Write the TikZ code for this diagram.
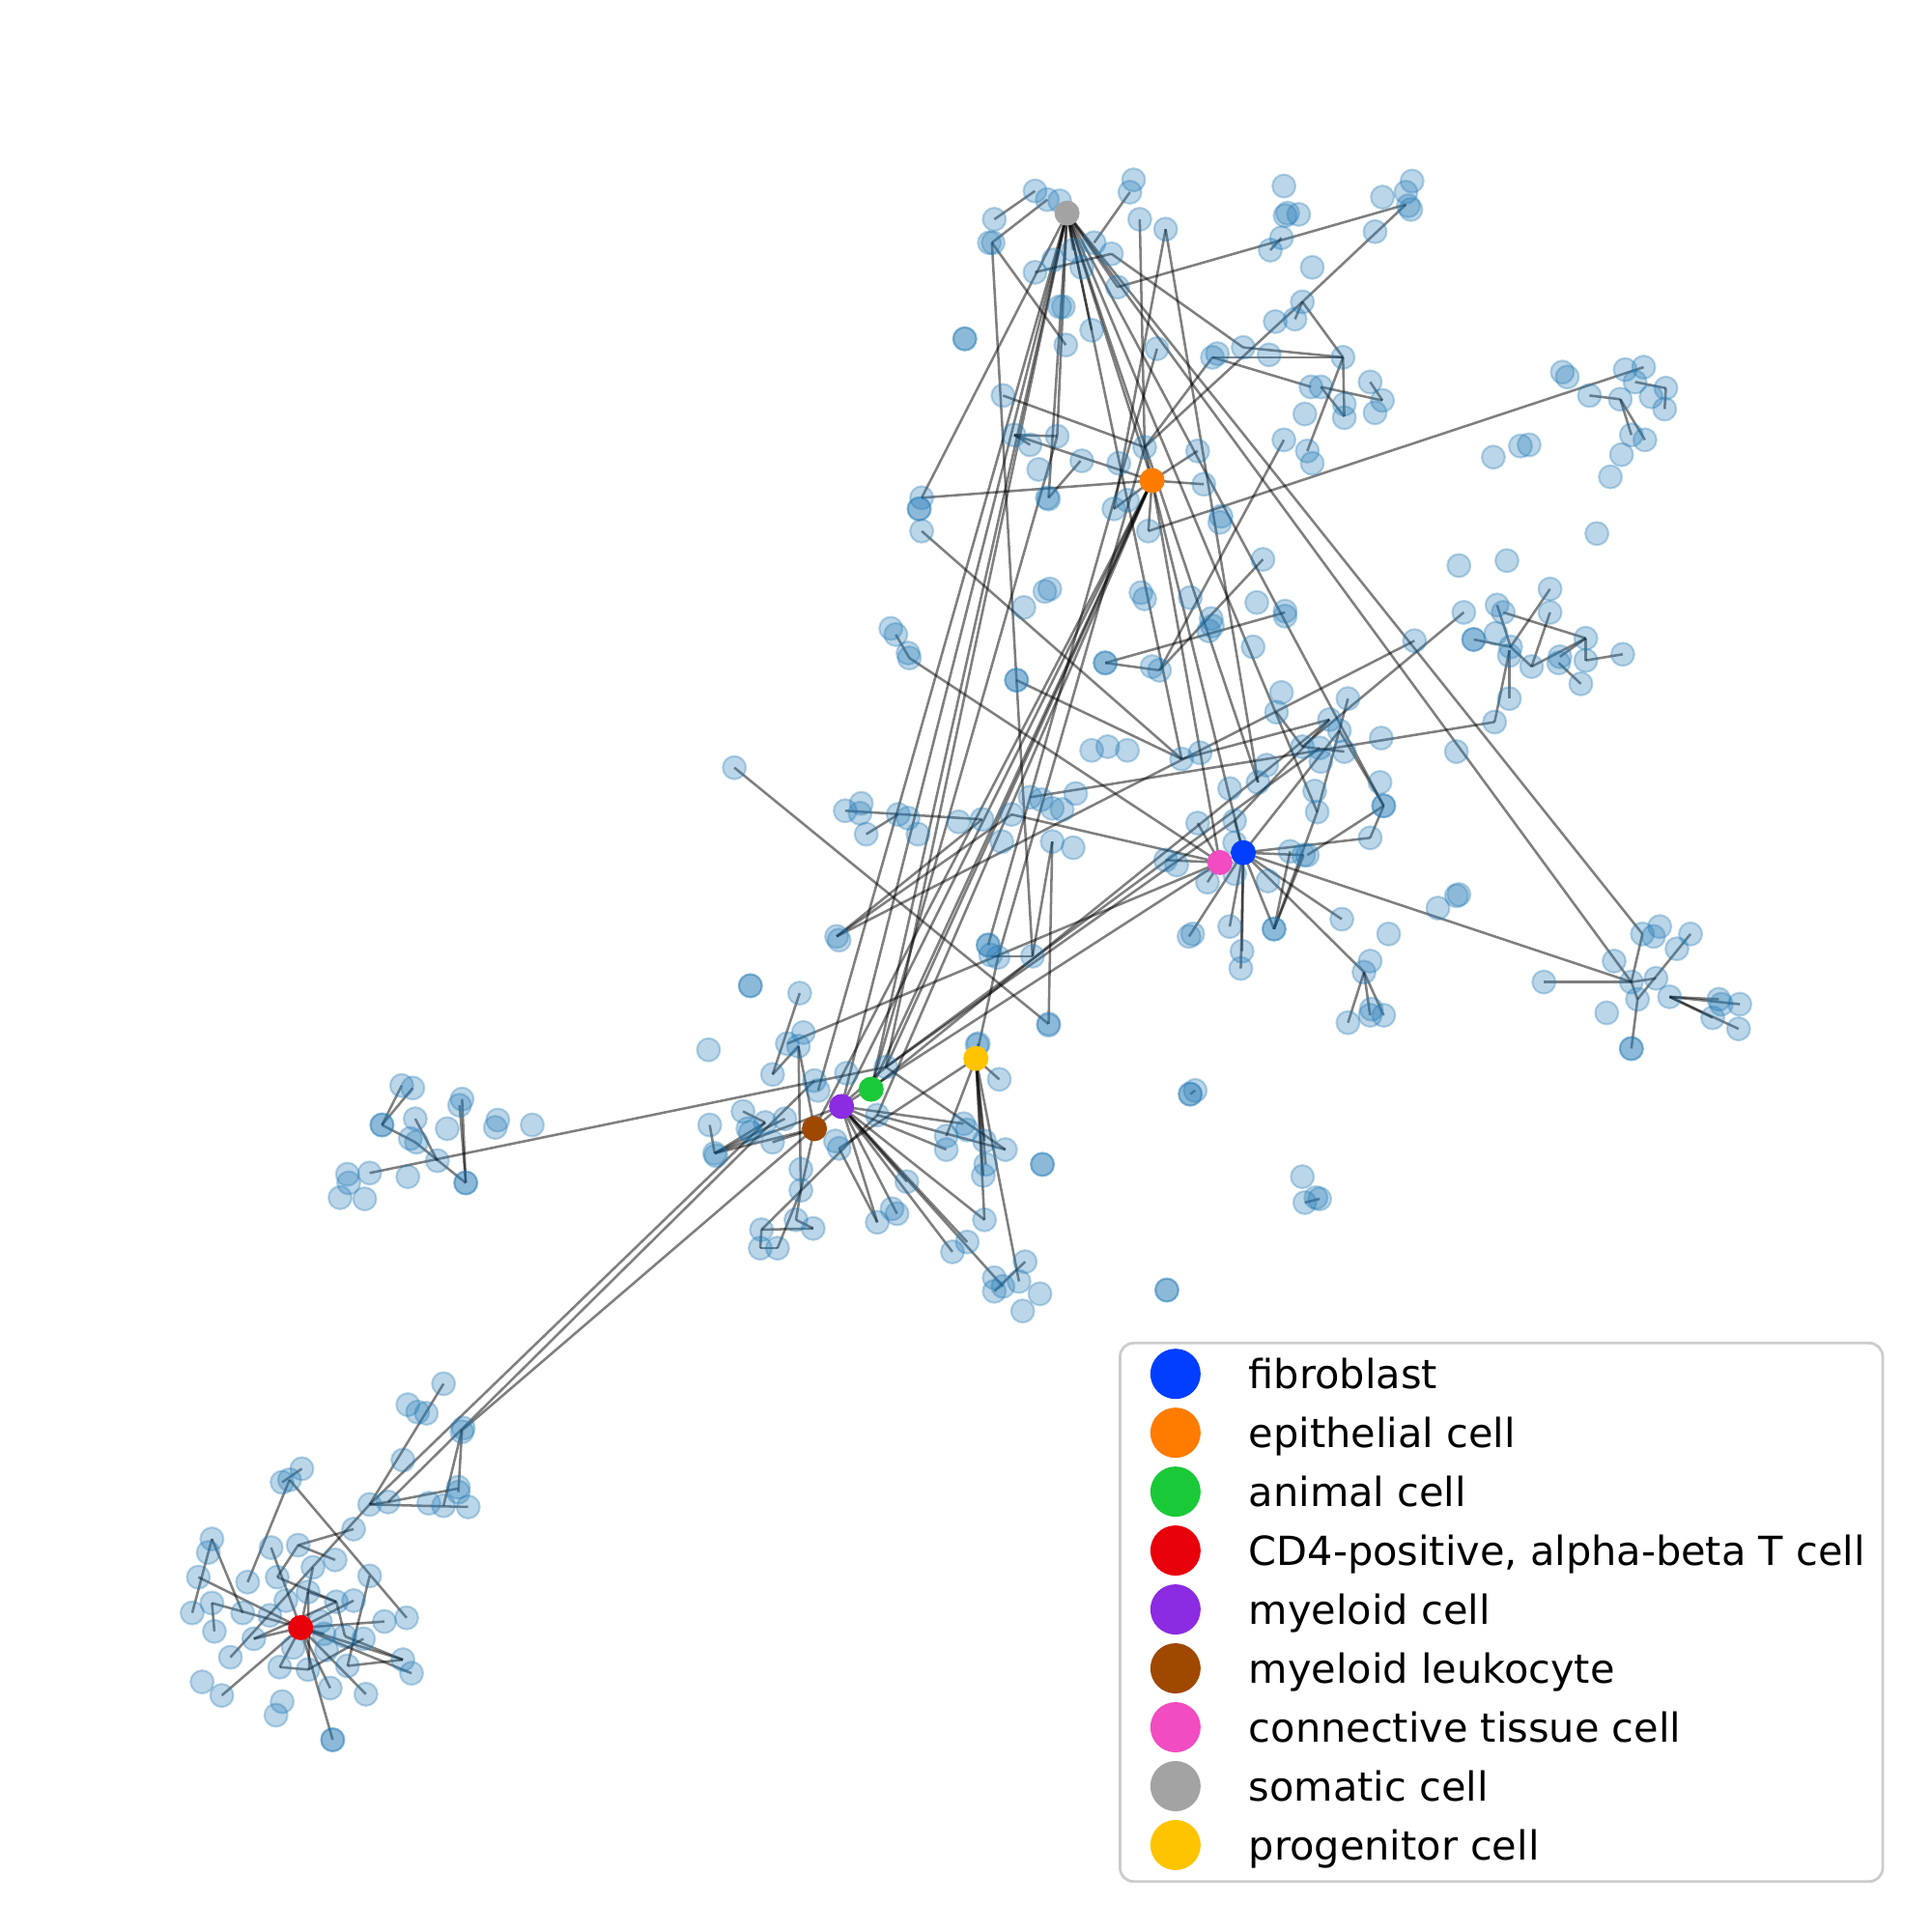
\documentclass[tikz,border=0pt]{standalone}
\usepackage{fontspec}
\setmainfont{DejaVu Sans}
\definecolor{nb}{HTML}{1F77B4}
\definecolor{cfib}{HTML}{023EFF}
\definecolor{cepi}{HTML}{FF7C00}
\definecolor{cani}{HTML}{1AC938}
\definecolor{ccd}{HTML}{E8000B}
\definecolor{cmye}{HTML}{8B2BE2}
\definecolor{cleu}{HTML}{9F4800}
\definecolor{ccon}{HTML}{F14CC1}
\definecolor{csom}{HTML}{A3A3A3}
\definecolor{cpro}{HTML}{FFC400}
\begin{document}
\begin{tikzpicture}[x=0.12755mm,y=-0.12755mm,
  bn/.style={circle,inner sep=0pt,minimum size=6.8pt,line width=0.6pt,fill=nb,draw=nb,fill opacity=0.3,draw opacity=0.3},
  hub/.style={circle,inner sep=0pt,minimum size=7.4pt,draw=none},
  edge/.style={line width=0.72pt,draw=black,draw opacity=0.5},
  lgm/.style={circle,inner sep=0pt,minimum size=14.8pt,draw=none},
  lgt/.style={anchor=base west,inner sep=0pt,font=\fontsize{11.8pt}{14pt}\selectfont}]
\useasboundingbox (0,0) rectangle (1568,1568);
% hub coordinates
\coordinate (S) at (866,173);
\coordinate (O) at (935,390);
\coordinate (F) at (1009,692);
\coordinate (P) at (990,700);
\coordinate (G) at (707,884);
\coordinate (M) at (683,898);
\coordinate (B) at (661,916);
\coordinate (Y) at (792,859);
\coordinate (R) at (244,1321);
% hub edges
\draw[edge] (S) -- (O);
\draw[edge] (S) -- (G);
\draw[edge] (S) -- (M);
\foreach \x/\y in {907/233, 886/268, 858/354, 851/404, 959/616, 1021/635, 1069/659, 1123/654, 1333/758, 1324/797, 719/866, 748/404, 871/203, 664/885}
  \draw[edge] (S) -- (\x,\y);
\draw[edge] (O) -- (P);
\draw[edge] (O) -- (F);
\draw[edge] (O) -- (G);
\draw[edge] (O) -- (M);
\draw[edge] (O) -- (B);
\foreach \x/\y in {748/404, 823/353, 977/393, 972/366, 904/413, 932/431, 929/363, 719/866, 712/905}
  \draw[edge] (O) -- (\x,\y);
\foreach \x/\y in {1112/680, 1089/746, 1107/789, 1034/754, 998/752, 1008/772, 1007/786, 965/760, 1324/797, 1087/593, 1002/666, 1058/694}
  \draw[edge] (F) -- (\x,\y);
\draw[edge] (P) -- (M);
\foreach \x/\y in {946/698, 972/668, 980/716, 738/534, 639/847, 821/661}
  \draw[edge] (P) -- (\x,\y);
\foreach \x/\y in {1079/584, 858/354}
  \draw[edge] (G) -- (\x,\y);
\foreach \x/\y in {782/912, 768/933, 799/990, 773/1016, 785/1008, 712/992, 728/985, 814/1044, 736/959, 580/936}
  \draw[edge] (M) -- (\x,\y);
\foreach \x/\y in {648/849, 627/927, 650/966, 580/936}
  \draw[edge] (B) -- (\x,\y);
\foreach \x/\y in {811/876, 794/847, 768/922, 799/926, 800/945, 798/954, 799/990, 827/1040, 681/932, 810/777}
  \draw[edge] (Y) -- (\x,\y);
\foreach \x/\y in {220/1256, 254/1272, 312/1316, 206/1330, 334/1358, 270/1412, 268/1370, 297/1375, 180/1376, 227/1353, 287/1299, 327/1347, 161/1280, 172/1301, 263/1326}
  \draw[edge] (R) -- (\x,\y);
% other edges
\foreach \a/\b/\c/\d in {
 807/178/840/155, 805/197/850/162, 805/197/825/552, 805/197/865/280, 840/221/902/206,
 902/206/1009/282, 1009/282/1090/290, 888/197/917/156, 925/178/929/363, 946/186/904/413,
 946/186/1021/635, 907/233/1141/166, 1141/166/1057/245, 1057/245/929/363, 1057/245/1051/259,
 1057/245/1090/290, 1031/203/1040/193, 984/290/1090/290, 984/290/1064/314, 1090/290/1091/338,
 1072/314/1091/338, 1072/314/1122/325, 1112/310/1122/325, 1090/290/1061/366, 1042/357/941/544,
 1025/454/941/544, 897/538/1043/497, 897/538/941/544, 814/321/929/363, 823/353/858/354,
 823/353/836/361, 877/374/851/404, 932/431/1334/298, 748/431/959/616, 825/552/959/616,
 959/616/1079/584, 727/515/738/534, 929/363/984/290,
 838/776/825/552, 838/776/804/776, 854/683/838/776, 851/831/854/683, 596/623/851/831,
 810/777/929/363, 802/767/939/283, 686/658/797/665, 703/677/729/661, 679/760/797/665,
 679/760/821/661, 1213/586/836/647, 1148/520/679/760, 1188/497/1057/606, 1094/567/1069/659,
 1036/578/1057/606, 1057/606/1091/610, 1123/654/1087/593, 1123/654/1112/680, 1123/654/1061/694,
 1034/754/1069/659, 1034/754/1047/691, 1034/754/1058/694, 1107/789/1094/830, 1107/789/1112/824,
 1107/789/1123/824, 1002/666/1079/584, 719/866/1071/607, 719/866/1002/666,
 1213/586/1225/528, 1225/528/1225/567, 1196/519/1226/525, 1215/491/1226/525, 1226/525/1258/478,
 1220/497/1287/518, 1243/541/1258/497, 1243/541/1226/525, 1243/541/1287/518, 1266/533/1287/518,
 1287/518/1287/536, 1287/536/1317/531, 1265/538/1283/555,
 1253/797/1324/797, 1324/797/1333/758, 1324/797/1344/794, 1324/797/1329/811, 1329/811/1372/758,
 1329/811/1324/851, 1355/809/1412/815, 1355/809/1395/811, 1355/809/1411/835, 1355/809/1390/826,
 1327/310/1352/315, 1352/315/1351/332, 1290/321/1315/324, 1315/324/1324/353, 1315/324/1335/357,
 1059/976/1071/973, 966/888/970/885,
 649/806/627/872, 627/872/648/849, 648/849/650/966, 650/966/646/990, 646/990/660/997,
 660/997/618/998, 618/998/617/1013, 617/1013/631/1013, 631/1013/650/966, 618/998/712/905,
 603/902/621/911, 576/913/580/936, 580/936/637/908, 580/936/621/911, 300/952/719/866,
 719/866/816/933, 681/932/712/992, 832/1024/807/1048, 712/905/816/933,
 310/913/326/881, 310/913/335/883, 310/913/337/927, 337/927/378/960, 337/908/355/942,
 375/892/378/960, 373/897/378/960,
 300/1221/621/911, 315/1219/661/877, 376/1160/719/866,
 360/1123/300/1221, 375/1160/372/1211, 375/1160/360/1222, 372/1208/315/1219, 300/1221/380/1223,
 300/1221/315/1219, 300/1221/187/1345, 245/1192/229/1203, 235/1201/201/1284, 235/1201/330/1313,
 287/1241/242/1254, 242/1254/272/1266, 242/1254/225/1280, 225/1280/273/1300, 172/1249/156/1309,
 172/1249/197/1309, 172/1301/174/1324, 250/1292/273/1300, 250/1292/251/1355, 273/1300/280/1328,
 280/1328/327/1347, 300/1279/282/1352, 227/1353/250/1355, 250/1355/295/1330, 282/1352/327/1347,
 206/1330/273/1300}
  \draw[edge] (\a,\b) -- (\c,\d);
% plain nodes
\foreach \x/\y [count=\i] in {
 840/155, 850/162, 860/163, 807/178, 803/197, 806/197, 920/146, 917/156, 925/178, 946/186, 888/197, 902/206, 871/203, 855/211, 840/221, 878/217, 907/233, 860/249, 863/249, 886/268, 865/280, 783/275, 783/275, 939/283, 984/290, 988/287, 1009/282, 1030/288, 1090/290, 1064/314, 1072/314, 1112/310, 1122/325, 1091/328, 1091/339, 1116/335, 1059/336, 1042/357, 1061/366, 1065/376, 1042/151, 1045/173, 1054/174, 1043/175, 1040/193, 1031/203, 1065/217, 1057/245, 1051/259, 1035/261, 1122/160, 1146/147, 1141/156, 1143/167, 1145/170, 1116/188,
 814/321, 823/353, 836/361, 858/354, 843/381, 878/374, 850/404, 851/405, 908/376, 929/363, 972/366, 977/393, 904/413, 915/406, 990/424, 991/419, 932/431, 1025/454, 748/404, 746/413, 746/413, 748/431, 852/478, 848/480, 831/493, 926/481, 929/486, 966/485, 1020/489, 1043/496, 1043/500, 983/502, 984/508, 981/512, 1017/525, 1148/520, 897/538, 897/538, 935/541, 941/544, 723/510, 727/515, 737/530, 738/534,
 825/552, 825/552, 1040/562, 1036/578, 1094/567, 1079/584, 1087/593, 1057/606, 1071/607, 1072/618, 1091/610, 1067/642, 1069/659, 1028/621, 1021/635, 998/640, 1002/666, 1002/684, 972/668, 946/698, 955/702, 980/716, 1002/709, 1029/715, 1047/691, 1058/694, 1089/746, 1034/754, 1034/754, 998/752, 965/760, 968/758, 1008/772, 1007/786, 1094/830, 1112/824, 1123/824, 1113/819, 1112/780, 1107/789, 886/609, 899/606, 915/609, 959/616, 974/611,
 686/658, 699/652, 698/660, 703/677, 729/661, 737/664, 745/677, 778/667, 797/665, 821/661, 813/683, 836/647, 845/649, 854/656, 862/657, 873/644, 854/683, 871/688, 679/760, 681/763, 802/767, 804/775, 802/767, 810/777, 838/776, 851/831, 793/848, 596/623,
 1121/599, 1182/610, 1120/635, 1123/654, 1123/654, 1112/680, 1061/694, 1127/758, 1167/737, 1182/727, 1184/726,
 1184/459, 1223/455, 1188/497, 1196/519, 1196/519, 1214/514, 1215/491, 1220/497, 1226/525, 1225/532, 1243/541, 1258/478, 1258/497, 1265/538, 1266/533, 1283/555, 1287/518, 1287/536, 1317/531, 1225/567, 1213/586, 1296/433, 1212/371, 1234/362, 1241/361,
 1268/302, 1272/306, 1319/300, 1334/298, 1327/310, 1290/321, 1315/324, 1340/322, 1352/315, 1351/332, 1324/353, 1335/357, 1316/369, 1307/387,
 1333/758, 1347/752, 1342/760, 1372/758, 1361/770, 1310/780, 1253/797, 1324/797, 1344/794, 1329/811, 1304/822, 1355/809, 1395/811, 1390/826, 1397/815, 1412/815, 1411/835, 1324/851, 1324/851,
 966/888, 970/885, 966/888, 1057/955, 1059/976, 1071/973, 1068/972, 947/1047, 947/1047,
 609/800, 609/800, 649/806, 575/852, 639/847, 652/838, 648/849, 627/872, 687/871, 719/866, 661/877, 664/885, 603/902, 576/913, 621/911, 637/908, 607/916, 609/919, 627/927, 580/936, 581/938, 678/926, 681/932, 712/905, 650/949, 650/966, 646/990, 660/997, 618/998, 617/1013, 631/1013, 712/992, 724/981, 728/985, 736/959, 768/922, 768/933, 782/912, 785/917, 799/926, 800/945, 798/954, 816/933, 799/990, 773/1016, 785/1008, 811/876, 794/847, 851/832, 846/945, 846/945, 807/1037, 807/1048, 814/1044, 827/1040, 832/1024, 844/1050, 830/1064,
 326/881, 335/883, 310/913, 310/913, 337/908, 333/924, 338/927, 355/942, 363/916, 375/892, 373/897, 404/909, 402/915, 432/913, 378/960, 378/960, 331/955, 300/952, 282/953, 283/960, 276/972, 296/973,
 360/1123, 331/1140, 339/1146, 346/1147, 376/1159, 375/1162, 327/1185, 245/1192, 229/1203, 235/1201, 300/1221, 315/1219, 348/1220, 360/1222, 380/1223, 372/1207, 372/1211, 287/1241, 220/1256, 242/1254, 172/1249, 169/1260, 161/1280, 201/1284, 225/1280, 254/1272, 272/1266, 300/1279, 156/1309, 172/1301, 174/1324, 197/1309, 219/1311, 232/1299, 250/1292, 273/1300, 287/1299, 312/1316, 330/1313, 206/1330, 238/1337, 265/1339, 280/1328, 295/1330, 187/1345, 227/1353, 250/1355, 282/1352, 327/1347, 334/1358, 268/1370, 297/1375, 164/1365, 180/1376, 229/1381, 224/1392, 270/1412, 270/1412, 263/1326, 260/1316}
  \node[bn] (n\i) at (\x,\y) {};
% hub nodes
\node[hub,fill=csom] (somatic) at (S) {};
\node[hub,fill=cepi] (epithelial) at (O) {};
\node[hub,fill=ccon] (connective) at (P) {};
\node[hub,fill=cfib] (fibroblast) at (F) {};
\node[hub,fill=cpro] (progenitor) at (Y) {};
\node[hub,fill=cleu] (leukocyte) at (B) {};
\node[hub,fill=cmye] (myeloid) at (M) {};
\node[hub,fill=cani] (animal) at (G) {};
\node[hub,fill=ccd] (cdfour) at (R) {};
% legend
\draw[draw=black!20,line width=0.8pt,fill=white,fill opacity=0.8,rounded corners=4pt] (909,1090) rectangle (1528,1527);
\foreach \c/\t [count=\k from 0] in {cfib/fibroblast, cepi/epithelial cell, cani/animal cell, ccd/{CD4-positive, alpha-beta T cell}, cmye/myeloid cell, cleu/myeloid leukocyte, ccon/connective tissue cell, csom/somatic cell, cpro/progenitor cell} {
  \node[lgm,fill=\c] (lm\k) at (954,1115+47.8*\k) {};
  \node[lgt] (lt\k) at (1013,1127+47.8*\k) {\t};
}
\end{tikzpicture}
\end{document}
